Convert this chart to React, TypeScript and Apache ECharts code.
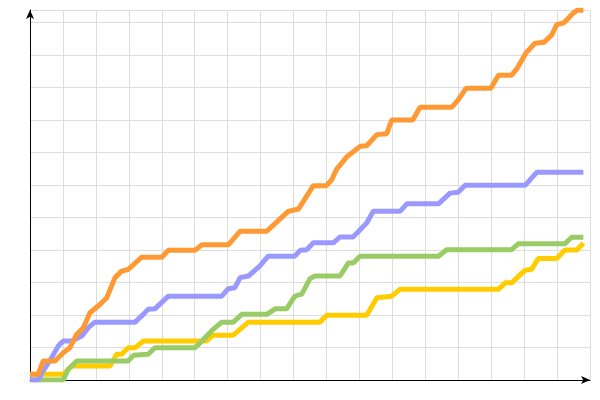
import React, { useEffect, useRef } from "react";
import * as echarts from "echarts";

const orangeData: [number, number][] = [
  [0, 1.75], [0.25, 1.75], [0.4, 5.85], [0.76, 5.85], [1.01, 8.4], [1.21, 9.9],
  [1.42, 14.1], [1.62, 16.1], [1.82, 20.7], [2.13, 23.3], [2.33, 25.3], [2.58, 31.5],
  [2.78, 33.5], [2.98, 34.0], [3.39, 37.8], [4.0, 37.8], [4.2, 39.9], [5.01, 39.9],
  [5.22, 41.6], [6.02, 41.6], [6.38, 45.8], [7.19, 45.8], [7.84, 51.9], [8.15, 52.6],
  [8.6, 59.8], [8.99, 59.8], [9.16, 61.6], [9.31, 64.9], [9.61, 68.6], [10.02, 71.9],
  [10.22, 72.1], [10.53, 75.5], [10.83, 75.8], [10.98, 80.0], [11.62, 80.0], [11.84, 83.9],
  [12.8, 83.9], [13.0, 86.2], [13.24, 89.8], [13.99, 89.8], [14.22, 93.8], [14.62, 93.8],
  [14.79, 95.9], [15.06, 100.7], [15.33, 103.6], [15.6, 103.9], [15.84, 106.2], [15.99, 109.4],
  [16.21, 109.9], [16.48, 112.8], [16.62, 113.8], [16.8, 113.8],
];

const blueData: [number, number][] = [
  [0, 0], [0.25, 0], [0.36, 2.2], [0.66, 6.9], [0.86, 10.5], [1.01, 12.0], [1.27, 12.0],
  [1.57, 13.5], [1.77, 16.1], [1.97, 17.8], [3.19, 17.8], [3.44, 20.2], [3.59, 21.8],
  [3.79, 21.9], [4.2, 25.8], [5.82, 25.8], [6.02, 28.1], [6.22, 28.4], [6.38, 31.5],
  [6.63, 32.0], [6.98, 35.1], [7.23, 38.1], [8.04, 38.1], [8.2, 39.9], [8.4, 40.1],
  [8.6, 42.2], [9.21, 42.2], [9.41, 44.0], [9.81, 44.0], [10.22, 48.3], [10.42, 51.9],
  [11.23, 51.9], [11.44, 54.2], [12.4, 54.2], [12.75, 57.5], [13.0, 57.8], [13.21, 59.9],
  [15.03, 59.9], [15.38, 63.9], [16.8, 63.9],
];

const greenData: [number, number][] = [
  [0, 0], [1.01, 0], [1.16, 3.3], [1.42, 5.85], [2.98, 5.85], [3.14, 7.6], [3.59, 7.9],
  [3.79, 9.9], [5.01, 9.9], [5.16, 11.4], [5.56, 15.6], [5.82, 17.8], [6.17, 17.8],
  [6.43, 20.2], [7.19, 20.2], [7.44, 21.9], [7.79, 21.9], [8.04, 25.8], [8.25, 26.4],
  [8.5, 31.2], [8.65, 32.0], [9.41, 32.0], [9.61, 35.1], [9.66, 36.0], [9.81, 36.0],
  [10.02, 38.1], [12.4, 38.1], [12.65, 40.1], [14.62, 40.1], [14.82, 41.9], [16.24, 41.9],
  [16.44, 43.9], [16.8, 43.9],
];

const yellowData: [number, number][] = [
  [0, 1.75], [1.01, 1.75], [1.27, 4.3], [2.43, 4.3], [2.63, 7.9], [2.78, 7.9], [2.98, 9.9],
  [3.19, 9.9], [3.44, 12.0], [5.36, 12.0], [5.56, 13.8], [6.17, 13.8], [6.63, 17.8],
  [8.8, 17.8], [9.01, 19.9], [10.22, 19.9], [10.53, 25.3], [10.98, 25.8], [11.23, 27.9],
  [14.22, 27.9], [14.43, 29.9], [14.62, 29.9], [15.03, 33.8], [15.23, 34.1], [15.43, 37.4],
  [15.99, 37.4], [16.24, 40.0], [16.6, 40.0], [16.8, 42.1],
];

const seriesNames = ["yellow", "green", "blue", "orange"];
const seriesColors = ["#FFCC00", "#99CC66", "#9999FF", "#FF9933"];
const seriesData = [yellowData, greenData, blueData, orangeData];

export default function App() {
  const ref = useRef<HTMLDivElement>(null);
  useEffect(() => {
    if (!ref.current) return;
    const chart = echarts.init(ref.current, undefined, { renderer: "svg" });
    const axisCommon = {
      type: "value" as const,
      min: 0,
      axisLabel: { show: false },
      axisTick: { show: false },
      axisLine: {
        show: true,
        onZero: false,
        symbol: ["none", "arrow"],
        symbolSize: [6, 9],
        lineStyle: { color: "#000", width: 1 },
      },
      splitLine: { show: true, lineStyle: { color: "#dddddd", width: 1 } },
    };
    chart.setOption({
      animation: false,
      grid: { left: 30, right: 10, top: 10, bottom: 20 },
      xAxis: { ...axisCommon, max: 17, interval: 1 },
      yAxis: { ...axisCommon, max: 113.85, interval: 10 },
      series: seriesData.map((d, i) => ({
        name: seriesNames[i],
        type: "line",
        data: d,
        showSymbol: false,
        symbol: "none",
        lineStyle: { color: seriesColors[i], width: 5 },
        itemStyle: { color: seriesColors[i] },
      })),
    });
    return () => chart.dispose();
  }, []);
  return (
    <div
      ref={ref}
      style={{ position: "fixed", left: 0, top: 0, width: 600, height: 400 }}
    />
  );
}
